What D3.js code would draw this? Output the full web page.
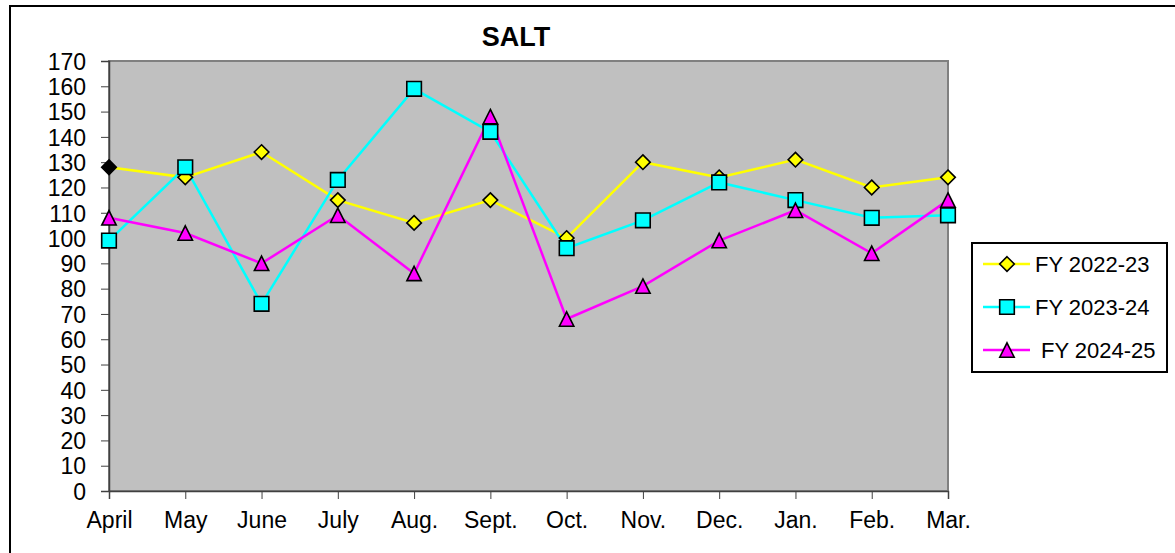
<!DOCTYPE html>
<html>
<head>
<meta charset="utf-8">
<script src="https://cdn.jsdelivr.net/npm/d3@7"></script>
<style>
  body { margin: 0; background: #fff; }
  text { font-family: "Liberation Sans", Arial, sans-serif; fill: #000; }
</style>
</head>
<body>
<div class="chart"></div>
<script>
const months = ['April', 'May', 'June', 'July', 'Aug.', 'Sept.', 'Oct.', 'Nov.', 'Dec.', 'Jan.', 'Feb.', 'Mar.'];
const fy2223 = [128, 124, 134, 115, 106, 115, 100, 130, 124, 131, 120, 124];
const fy2324 = [99, 128, 74, 123, 159, 142, 96, 107, 122, 115, 108, 109];
const fy2425 = [108, 102, 90, 109, 86, 148, 68, 81, 99, 111, 94, 115];
const yTicks = d3.range(0, 171, 10);

// excel-like marker shapes (size = half width)
const diamond = {
    draw(ctx, r) {
        ctx.moveTo(0, -r); ctx.lineTo(r, 0); ctx.lineTo(0, r); ctx.lineTo(-r, 0); ctx.closePath();
    }
};
const square = {
    draw(ctx, r) {
        ctx.moveTo(-r, -r); ctx.lineTo(r, -r); ctx.lineTo(r, r); ctx.lineTo(-r, r); ctx.closePath();
    }
};
const triangle = {
    draw(ctx, r) {
        ctx.moveTo(0, -r); ctx.lineTo(r, r); ctx.lineTo(-r, r); ctx.closePath();
    }
};

const series = [
    { name: 'FY 2022-23', values: fy2223, color: '#ffff00', symbol: diamond, size: 7.3 },
    { name: 'FY 2023-24', values: fy2324, color: '#00ffff', symbol: square, size: 7.3 },
    { name: 'FY 2024-25', values: fy2425, color: '#ff00ff', symbol: triangle, size: 7.2 },
];

const W = 1175, H = 553;
const plot = { left: 109, top: 61, right: 948, bottom: 491 };

const svg = d3.select('.chart')
    .append('svg')
    .attr('width', W)
    .attr('height', H);

// outer frame (top + left only are visible)
svg.append('path')
    .attr('d', `M10,${H} L10,6 L${W},6`)
    .attr('fill', 'none')
    .attr('stroke', '#000')
    .attr('stroke-width', 2);

const x = d3.scalePoint().domain(months).range([plot.left, plot.right]);
const y = d3.scaleLinear().domain([0, 170]).range([plot.bottom, plot.top]);

svg.append('rect')
    .attr('x', plot.left)
    .attr('y', plot.top)
    .attr('width', plot.right - plot.left)
    .attr('height', plot.bottom - plot.top)
    .attr('fill', '#c0c0c0')
    .attr('stroke', '#808080')
    .attr('stroke-width', 2);

svg.append('text')
    .attr('x', 516)
    .attr('y', 46)
    .attr('text-anchor', 'middle')
    .attr('font-size', 27)
    .attr('font-weight', 'bold')
    .text('SALT');

const yAxis = svg.append('g')
    .attr('transform', `translate(${plot.left},0)`)
    .call(d3.axisLeft(y).tickValues(yTicks).tickSize(8).tickPadding(15));
yAxis.select('.domain').attr('stroke', '#404040').attr('stroke-width', 1.5);
yAxis.selectAll('.tick line').attr('stroke', '#404040');
yAxis.selectAll('text').attr('font-size', 23).attr('font-family', '"Liberation Sans", Arial, sans-serif').attr('dy', '0.36em');

const xAxis = svg.append('g')
    .attr('transform', `translate(0,${plot.bottom})`)
    .call(d3.axisBottom(x).tickSize(8).tickPadding(13));
xAxis.select('.domain').attr('stroke', '#404040').attr('stroke-width', 1.5);
xAxis.selectAll('.tick line').attr('stroke', '#404040');
xAxis.selectAll('text').attr('font-size', 23).attr('font-family', '"Liberation Sans", Arial, sans-serif');

const line = d3.line()
    .x((d, i) => x(months[i]))
    .y(d => y(d));

series.forEach(s => {
    svg.append('path')
        .datum(s.values)
        .attr('d', line)
        .attr('fill', 'none')
        .attr('stroke', s.color)
        .attr('stroke-width', 2.5);
});

series.forEach((s, si) => {
    const sym = d3.symbol().type(s.symbol).size(s.size);
    svg.selectAll(null)
        .data(s.values)
        .enter()
        .append('path')
        .attr('d', sym)
        .attr('transform', (d, i) => `translate(${x(months[i])},${y(d)})`)
        // first diamond of FY 2022-23 is drawn black in the original
        .attr('fill', (d, i) => (si === 0 && i === 0) ? '#000' : s.color)
        .attr('stroke', '#000')
        .attr('stroke-width', 1.6);
});

// legend
const legend = svg.append('g');
legend.append('rect')
    .attr('x', 972)
    .attr('y', 243)
    .attr('width', 195)
    .attr('height', 129)
    .attr('fill', '#fff')
    .attr('stroke', '#000')
    .attr('stroke-width', 2);

const rows = legend.selectAll('g.row')
    .data(series)
    .enter()
    .append('g')
    .attr('class', 'row')
    .attr('transform', (d, i) => `translate(0,${264 + i * 43})`);

rows.append('line')
    .attr('x1', 983).attr('x2', 1030)
    .attr('stroke', d => d.color)
    .attr('stroke-width', 2.5);

rows.append('path')
    .attr('d', d => d3.symbol().type(d.symbol).size(d.size)())
    .attr('transform', 'translate(1007,0)')
    .attr('fill', d => d.color)
    .attr('stroke', '#000')
    .attr('stroke-width', 1.6);

rows.append('text')
    .attr('x', (d, i) => i === 2 ? 1041 : 1035)
    .attr('dy', '0.36em')
    .attr('font-size', 22)
    .text(d => d.name);
</script>
</body>
</html>
